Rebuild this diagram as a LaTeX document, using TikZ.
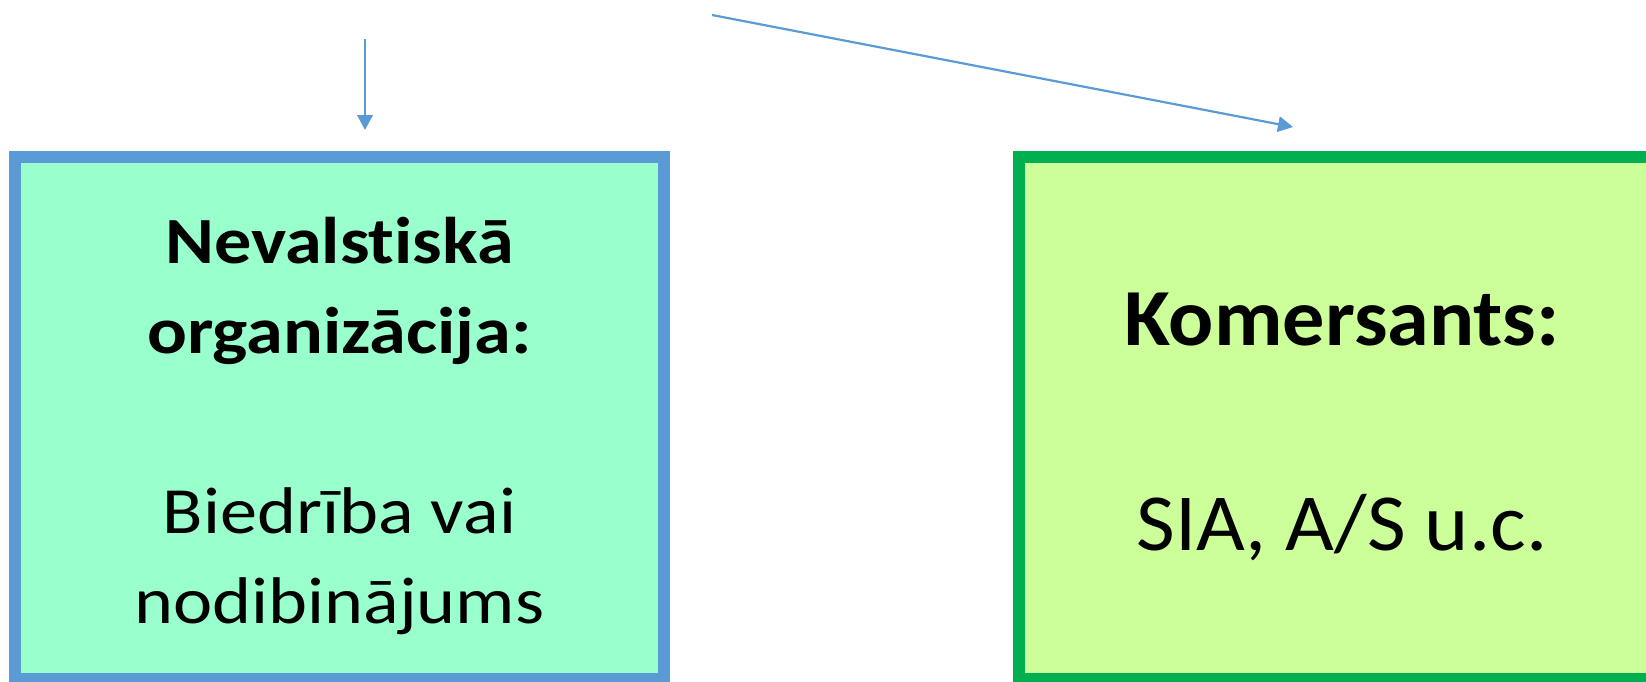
\documentclass[tikz,border=0pt]{standalone}
\usepackage{fontspec}
\setmainfont{Carlito}[Ligatures=NoCommon]
\newfontfamily\leftfont{Carlito}[Ligatures=NoCommon,FakeStretch=1.125]
\newfontfamily\rightfont{Carlito}[Ligatures=NoCommon,FakeStretch=1.04]
\usetikzlibrary{arrows.meta}
\definecolor{nvofill}{HTML}{99FFCC}
\definecolor{nvoline}{HTML}{5B9BD5}
\definecolor{komfill}{HTML}{CCFF99}
\definecolor{komline}{HTML}{00B050}
\tikzset{
  box/.style={rectangle, line width=12pt, inner sep=0pt, minimum height=522pt},
  lbl/.style={anchor=base, inner sep=0pt, text=black},
  leftbold/.style={lbl, font=\leftfont\fontsize{66}{80}\selectfont\bfseries},
  leftreg/.style={lbl, font=\leftfont\fontsize{66}{80}\selectfont},
  rightbold/.style={lbl, font=\rightfont\fontsize{81}{99}\selectfont\bfseries},
  rightreg/.style={lbl, font=\rightfont\fontsize{81}{99}\selectfont},
  conn/.style={draw=nvoline, line width=2.2pt, -{Triangle[length=15pt,width=15.5pt]}}
}
\begin{document}
\begin{tikzpicture}[x=1pt,y=-1pt]
\useasboundingbox (0,0) rectangle (1646,681);
\clip (0,0) rectangle (1646,681);
\node[box, draw=nvoline, fill=nvofill, minimum width=649pt] (nvo) at (339.5,418) {};
\node[box, draw=komline, fill=komfill, minimum width=646pt] (kom) at (1342,418) {};
\node[leftbold] (t1) at (339.5,263) {Nevalstiskā};
\node[leftbold] (t2) at (339.5,353) {organizācija:};
\node[leftreg] (t3) at (339.5,533) {Biedrība vai};
\node[leftreg] (t4) at (339.5,623) {nodibinājums};
\node[rightbold] (k1) at (1342,345) {Komersants:};
\node[rightreg] (k2) at (1342,550) {SIA, A/S u.c.};
\coordinate (a1s) at (365,39);
\coordinate (a1e) at (365,130);
\coordinate (a2s) at (712,15);
\coordinate (a2e) at (1293,127);
\draw[conn] (a1s) -- (a1e);
\draw[conn] (a2s) -- (a2e);
\end{tikzpicture}
\end{document}
